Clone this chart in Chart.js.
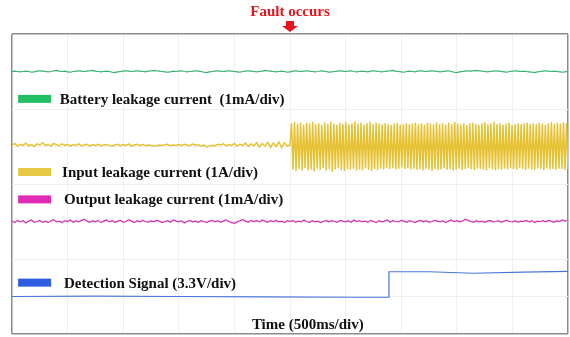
<!DOCTYPE html>
<html>
<head>
<meta charset="utf-8">
<script src="https://cdn.jsdelivr.net/npm/chart.js@4.4.0/dist/chart.umd.min.js"></script>
<style>
  body { margin: 0; background: #fff; }
  canvas { display: block; }
</style>
</head>
<body>
<canvas id="scope" width="570" height="337"></canvas>
<script>
// values in scope divisions (10 x 8 grid), time step 0.05 div per sample
const SAMPLE_STEP = 0.05;
const FAULT_TIME = 5.0;

const batteryValues = [
  7.00,7.01,7.00,6.99,7.00,7.01,7.00,6.98,6.99,7.01,
  7.02,7.01,7.00,6.99,7.00,7.02,7.03,7.01,7.00,7.01,
  6.99,6.98,7.00,7.01,7.02,7.01,7.00,7.01,7.02,7.03,
  7.01,7.00,6.99,7.00,7.01,7.00,6.98,6.97,6.99,7.00,
  7.01,7.02,7.01,7.00,7.01,7.02,7.01,7.00,6.99,7.01,
  7.02,7.03,7.02,7.01,7.00,6.99,6.98,6.99,7.01,7.00,
  7.01,7.02,7.00,6.99,7.00,7.01,7.02,7.01,7.00,6.98,
  6.97,6.99,7.00,7.01,7.02,7.01,7.00,7.01,7.02,7.01,
  7.00,6.99,6.98,7.00,7.01,7.02,7.01,7.00,6.99,7.00,
  7.01,7.03,7.02,7.01,7.00,6.99,7.00,7.01,7.00,6.98,
  6.99,7.01,7.02,7.01,7.00,7.01,7.02,7.01,7.00,6.99,
  7.00,7.02,7.01,7.00,6.98,6.99,7.00,7.01,7.02,7.01,
  7.00,7.01,7.02,7.00,6.99,7.00,7.01,7.00,6.99,7.01,
  7.02,7.01,7.00,6.99,7.00,7.01,7.02,7.03,7.01,7.00,
  6.99,6.98,7.00,7.01,7.00,6.99,7.01,7.02,7.01,7.00,
  7.01,7.02,7.01,7.00,6.99,7.00,7.01,7.02,7.00,6.98,
  6.97,6.99,7.00,7.01,7.02,7.01,7.02,7.03,7.02,7.01,
  7.00,6.99,7.00,7.01,7.02,7.01,7.00,6.99,6.98,7.00,
  7.01,7.02,7.01,7.00,7.01,7.00,6.99,6.98,6.97,6.99,
  7.00,7.01,7.02,7.01,7.00,7.01,7.00,6.99,6.98,6.99,
  7.01
];

// input leakage before the fault (same sample step)
const inputBefore = [
  5.04,5.08,5.01,5.06,5.03,5.09,5.02,5.05,5.00,5.07,
  5.04,5.10,5.03,5.06,5.01,5.08,5.05,5.02,5.07,5.03,
  5.06,5.01,5.05,5.03,5.07,5.02,5.04,5.06,5.01,5.05,
  5.03,5.06,5.02,5.04,5.05,5.03,5.01,5.04,5.06,5.02,
  5.05,5.03,5.07,5.01,5.04,5.06,5.03,5.05,5.02,5.04,
  5.03,5.01,5.02,5.04,5.03,5.05,5.06,5.02,5.04,5.03,
  5.05,5.03,5.06,5.04,5.02,5.07,5.03,5.05,5.01,5.04,
  4.99,5.01,5.03,5.02,5.06,5.04,5.07,5.02,5.05,5.03,
  5.08,5.01,5.06,5.03,5.09,5.00,5.07,5.02,5.10,4.99,
  5.08,5.01,5.11,4.98,5.09,5.00,5.12,4.97,5.10,5.01,
  5.04
];

// input leakage after the fault: peaks and troughs of the oscillation
const inputAfter = [
  5.62,4.38, 5.66,4.35, 5.60,4.40, 5.64,4.36, 5.58,4.42, 5.63,4.37, 5.61,4.39, 5.65,4.34, 5.59,4.41, 5.62,4.38,
  5.57,4.43, 5.64,4.36, 5.60,4.40, 5.66,4.33, 5.61,4.39, 5.58,4.42, 5.63,4.37, 5.60,4.35, 5.65,4.40, 5.59,4.38,
  5.62,4.41, 5.67,4.36, 5.61,4.39, 5.64,4.37, 5.58,4.42, 5.62,4.38, 5.66,4.35, 5.60,4.40, 5.63,4.37, 5.61,4.41,
  5.59,4.39, 5.62,4.43, 5.60,4.40, 5.57,4.42, 5.61,4.39, 5.63,4.41, 5.58,4.44, 5.60,4.40, 5.62,4.42, 5.59,4.39,
  5.61,4.41, 5.64,4.38, 5.60,4.40, 5.62,4.36, 5.58,4.41, 5.63,4.38, 5.61,4.35, 5.59,4.40, 5.64,4.37, 5.60,4.39,
  5.62,4.42, 5.58,4.38, 5.63,4.40, 5.60,4.36, 5.65,4.39, 5.61,4.41, 5.59,4.37, 5.62,4.40, 5.57,4.43, 5.61,4.39,
  5.63,4.37, 5.60,4.41, 5.58,4.40, 5.62,4.38, 5.64,4.36, 5.59,4.42, 5.61,4.39, 5.66,4.37, 5.60,4.40, 5.62,4.38,
  5.58,4.41, 5.61,4.39, 5.63,4.42, 5.57,4.40, 5.60,4.38, 5.62,4.43, 5.59,4.40, 5.61,4.37, 5.64,4.41, 5.60,4.39,
  5.62,4.38, 5.59,4.42, 5.63,4.40, 5.61,4.37, 5.58,4.41, 5.62,4.39, 5.65,4.40, 5.60,4.38, 5.63,4.41, 5.61,4.40,
  5.64,4.38, 5.62,4.40
];

const outputValues = [
  3.01,2.97,3.03,2.99,3.02,2.96,3.01,3.04,2.98,3.00,
  3.03,2.98,3.01,2.97,3.02,3.05,2.99,3.01,2.97,3.02,
  3.00,3.04,2.98,3.02,2.99,3.03,3.06,3.01,2.98,3.02,
  2.99,3.03,2.97,3.01,3.04,2.99,3.02,2.98,3.01,3.03,
  2.98,3.00,3.05,3.01,2.97,3.02,2.99,3.03,3.00,2.98,
  3.02,2.99,3.03,3.01,2.97,3.00,3.02,2.98,3.04,3.01,
  2.99,3.02,2.96,3.00,3.03,2.99,3.01,2.98,3.02,3.00,
  2.97,3.01,3.03,2.99,3.02,2.98,3.01,3.04,3.00,2.97,
  2.95,2.99,3.02,3.05,3.01,2.98,3.03,3.00,3.02,2.99,
  3.04,3.01,2.98,3.02,3.00,3.03,2.99,3.01,2.97,3.02,
  3.00,3.03,2.98,3.01,2.99,3.04,3.00,2.98,3.02,2.99,
  3.01,2.97,3.00,3.03,2.99,3.02,3.00,2.98,3.03,3.01,
  2.99,3.02,2.98,3.04,3.00,3.02,2.99,3.01,2.98,3.03,
  3.00,2.97,3.02,2.99,3.01,3.04,2.98,3.02,3.00,2.99,
  3.03,3.01,2.98,3.02,3.00,2.97,3.01,3.03,2.99,3.02,
  2.98,3.00,3.03,3.01,2.99,3.02,2.97,3.01,3.04,3.00,
  3.02,2.99,3.01,3.06,3.03,3.00,2.98,3.02,2.99,3.01,
  2.98,3.01,3.03,2.99,3.00,3.02,2.98,3.01,3.03,3.00,
  2.99,3.02,2.98,3.01,3.00,3.03,2.99,3.02,2.97,3.01,
  3.00,3.02,2.99,3.03,3.01,2.98,3.02,3.00,3.04,3.01,
  3.02
];

const detectTimes  = [0, 1.5, 3.0, 4.5, 6.2, 6.78, 6.78, 7.5, 8.3, 9.2, 10];
const detectLevels = [1.00, 1.01, 1.00, 0.99, 0.98, 0.98, 1.66, 1.66, 1.62, 1.65, 1.67];

const legendItems = [
  { label: "Battery leakage current  (1mA/div)", color: "#22bf62", y: 6.27, textX: 0.86 },
  { label: "Input leakage current (1A/div)",     color: "#e6c843", y: 4.32, textX: 0.90 },
  { label: "Output leakage current (1mA/div)",   color: "#e02bb4", y: 3.59, textX: 0.935 },
  { label: "Detection Signal (3.3V/div)",        color: "#2f5ce0", y: 1.37, textX: 0.935 }
];

const TEXT_FONT = 'bold 15px "Liberation Serif"';

// build point lists
const batteryData = batteryValues.map((v, i) => ({ x: i * SAMPLE_STEP, y: v }));
const outputData = outputValues.map((v, i) => ({ x: i * SAMPLE_STEP, y: v }));
const afterStep = (10 - FAULT_TIME) / inputAfter.length;
const inputData = inputBefore.map((v, i) => ({ x: i * SAMPLE_STEP, y: v }))
  .concat(inputAfter.map((v, i) => ({ x: FAULT_TIME + (i + 1) * afterStep, y: v })));
const detectData = detectTimes.map((t, i) => ({ x: t, y: detectLevels[i] }));

const overlay = {
  id: "overlay",
  afterDraw(chart) {
    const c = chart.ctx;
    const xs = chart.scales.x, ys = chart.scales.y;
    c.save();
    c.font = TEXT_FONT;
    c.textBaseline = "middle";

    legendItems.forEach(item => {
      const yy = ys.getPixelForValue(item.y);
      const bx = xs.getPixelForValue(0.11);
      c.fillStyle = item.color;
      c.fillRect(bx, yy - 4, 33, 8);
      c.fillStyle = "#111";
      c.textAlign = "left";
      c.fillText(item.label, xs.getPixelForValue(item.textX), yy + 1);
    });

    // time base label
    c.textAlign = "center";
    c.fillStyle = "#111";
    c.fillText("Time (500ms/div)", xs.getPixelForValue(5.32), ys.getPixelForValue(0.24));

    // fault marker
    const fx = xs.getPixelForValue(FAULT_TIME);
    c.fillStyle = "#e8141c";
    c.fillText("Fault occurs", fx, 12);
    c.fillRect(fx - 4, 21, 8, 5);
    c.beginPath();
    c.moveTo(fx - 8, 26);
    c.lineTo(fx + 8, 26);
    c.lineTo(fx, 32);
    c.closePath();
    c.fill();
    c.restore();
  }
};

function gridColor(maxVal) {
  return ctx => (ctx.tick && (ctx.tick.value === 0 || ctx.tick.value === maxVal)) ? "#8c8c8c" : "#efefef";
}
function gridWidth(maxVal) {
  return ctx => (ctx.tick && (ctx.tick.value === 0 || ctx.tick.value === maxVal)) ? 1.5 : 1;
}

new Chart(document.getElementById("scope"), {
  type: "line",
  data: {
    datasets: [
      { data: batteryData, borderColor: "#35b56e", borderWidth: 1.2 },
      { data: inputData, borderColor: "#e6c232", borderWidth: 1.5 },
      { data: outputData, borderColor: "#d92db0", borderWidth: 1.2 },
      { data: detectData, borderColor: "#4a76dc", borderWidth: 1.2 }
    ]
  },
  options: {
    responsive: false,
    animation: false,
    layout: { padding: { left: 12, top: 34, right: 2, bottom: 3 } },
    elements: { point: { radius: 0 }, line: { tension: 0 } },
    plugins: { legend: { display: false }, tooltip: { enabled: false } },
    scales: {
      x: {
        type: "linear", min: 0, max: 10,
        ticks: { display: false, stepSize: 1 },
        grid: { drawTicks: false, color: gridColor(10), lineWidth: gridWidth(10) },
        border: { display: false }
      },
      y: {
        type: "linear", min: 0, max: 8,
        ticks: { display: false, stepSize: 1 },
        grid: { drawTicks: false, color: gridColor(8), lineWidth: gridWidth(8) },
        border: { display: false }
      }
    }
  },
  plugins: [overlay]
});
</script>
</body>
</html>
